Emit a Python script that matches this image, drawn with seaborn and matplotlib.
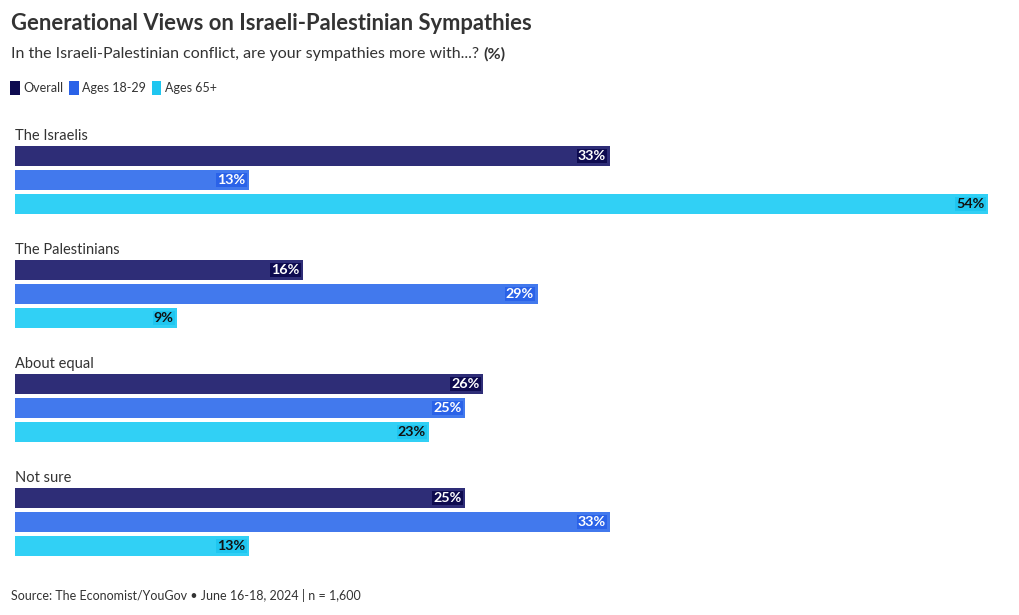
import pandas as pd
import matplotlib.pyplot as plt
import seaborn as sns

# Datos
categorias = ["The Israelis", "The Palestinians", "About equal", "Not sure"]
grupos = ["Overall", "Ages 18-29", "Ages 65+"]
overall = [33, 16, 26, 25]
jovenes = [13, 29, 25, 33]
mayores = [54, 9, 23, 13]

colores = ["#2e2d77", "#4279ed", "#31d0f5"]
colores_etiqueta = ["#0e0b50", "#2a62e8", "#1fc6f0"]
colores_texto = ["white", "white", "#111111"]

df = pd.DataFrame({
    "categoria": categorias * 3,
    "grupo": [g for g in grupos for _ in categorias],
    "valor": overall + jovenes + mayores,
})

sns.set_theme(style="white")
plt.rcParams['font.family'] = ['Lato', 'DejaVu Sans']
plt.rcParams['text.color'] = '#333333'

fig = plt.figure(figsize=(10.2, 6.15), dpi=100)
ax = fig.add_axes([15 / 1020, 50 / 615, (988 - 15) / 1020, 445 / 615])

sns.barplot(data=df, y="categoria", x="valor", hue="grupo", order=categorias,
            hue_order=grupos, palette=colores, orient="h", width=0.632,
            gap=0.15, saturation=1, linewidth=0, legend=False, ax=ax)

ax.set_xlim(0, 54)
ax.set_ylim(3.377, -0.526)
ax.set_xlabel("")
ax.set_ylabel("")
ax.set_xticks([])
ax.set_yticks([])
sns.despine(ax=ax, left=True, bottom=True)

# Etiquetas de valores
for i, cont in enumerate(ax.containers):
    for barra in cont:
        w = barra.get_width()
        yc = barra.get_y() + barra.get_height() / 2
        ax.text(w - 0.2, yc, f"{w:.0f}%", ha="right", va="center",
                fontsize=10.3, fontweight="bold", color=colores_texto[i],
                bbox=dict(boxstyle="square,pad=0.08", fc=colores_etiqueta[i], ec="none"))

# Nombres de categorías encima de cada grupo
for j, cat in enumerate(categorias):
    ax.text(0, j - 0.39, cat, ha="left", va="center", fontsize=10.5, color="#333333")

# Títulos
fig.text(11 / 1020, 1 - 24 / 615, "Generational Views on Israeli-Palestinian Sympathies",
         fontsize=15.8, fontweight="bold", va="center", ha="left", color="#333333")
sub = fig.text(11 / 1020, 1 - 54 / 615,
               "In the Israeli-Palestinian conflict, are your sympathies more with...? ",
               fontsize=11.5, va="center", ha="left", color="#333333")
fig.canvas.draw()
bb = sub.get_window_extent()
fig.text(bb.x1 / 1020, 1 - 54 / 615, "(%)", fontsize=11.5, fontweight="bold",
         va="center", ha="left", color="#333333")

# Leyenda
manejadores = [plt.Rectangle((0, 0), 1, 1, fc=c, ec="none") for c in colores_etiqueta]
fig.legend(manejadores, grupos, loc="center left", bbox_to_anchor=(-1 / 1020, 1 - 88 / 615),
           ncol=3, frameon=False, handlelength=0.75, handleheight=1.35, handletextpad=0.3,
           columnspacing=0.45, fontsize=9)

# Fuente
fig.text(11 / 1020, 1 - 595 / 615, "Source: The Economist/YouGov \u2022 June 16-18, 2024 | n = 1,600",
         fontsize=9, va="center", ha="left", color="#333333")

plt.savefig("out.png", dpi=100)
plt.close()
